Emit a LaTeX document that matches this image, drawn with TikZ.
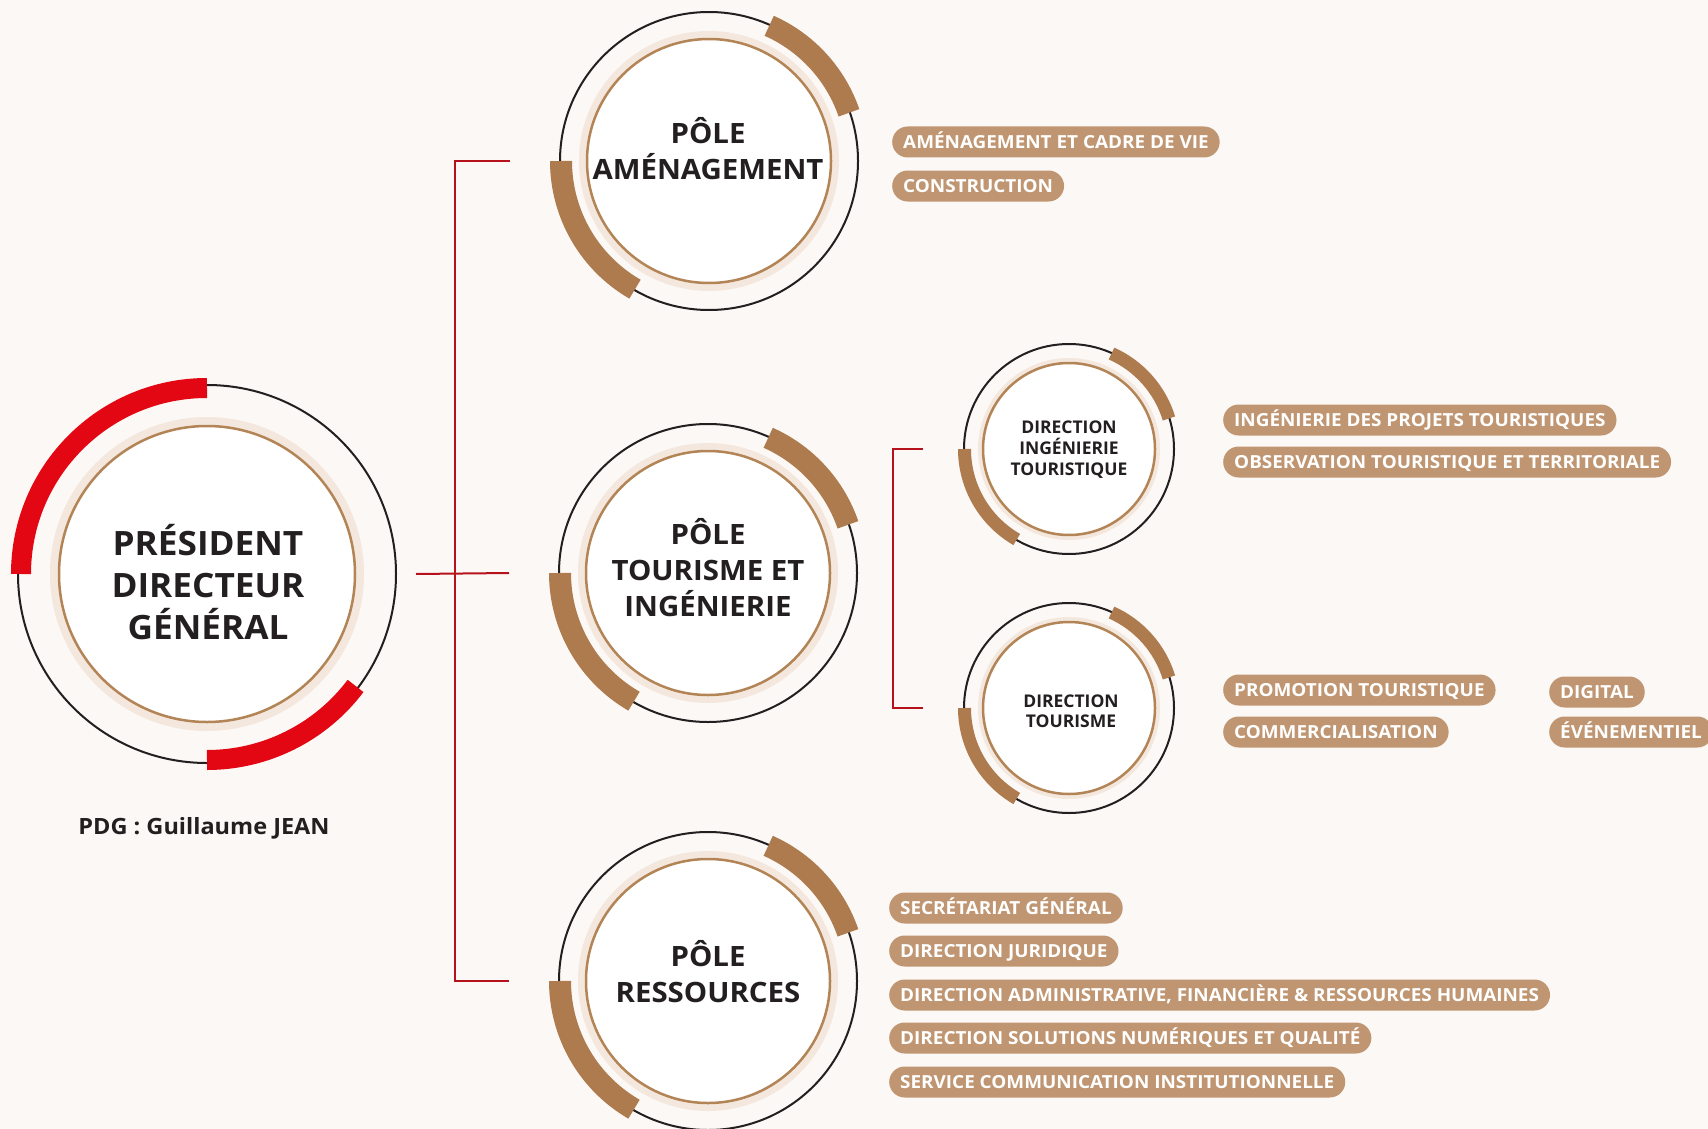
\documentclass[tikz,border=0pt]{standalone}
\usepackage{fontspec}
\setmainfont{Open Sans}[FakeStretch=1.05]
\newfontfamily\plainface{Open Sans}
\usetikzlibrary{positioning}
\definecolor{fond}{HTML}{FCF8F5}
\definecolor{encre}{HTML}{231F20}
\definecolor{rouge}{HTML}{E30613}
\definecolor{trait}{HTML}{B5121B}
\definecolor{bronze}{HTML}{AE7B4F}
\definecolor{cuivre}{HTML}{B38455}
\definecolor{halo}{HTML}{F4E8DE}
\definecolor{sable}{HTML}{BF9671}
\tikzset{
  ring/.style={circle,draw=encre,line width=2pt,inner sep=0pt},
  glow/.style={circle,fill=halo,inner sep=0pt},
  core/.style={circle,draw=cuivre,line width=2.5pt,fill=white,inner sep=0pt},
  title/.style={text=encre,align=center},
  tag/.style={rounded corners=15.5pt,fill=sable,text=white,font=\bfseries\fontsize{18}{18}\selectfont,minimum height=31pt,text height=12.6pt,text depth=0pt,inner xsep=11pt,inner ysep=0pt,anchor=west},
  link/.style={draw=trait,line width=2pt},
  redarc/.style={draw=rouge,line width=20pt},
  brownarc/.style={draw=bronze,line width=22pt},
  thinarc/.style={draw=bronze,line width=13pt}
}
\begin{document}
\begin{tikzpicture}[x=1pt,y=-1pt]
\fill[fond] (0,0) rectangle (1708,1129);
\useasboundingbox (0,0) rectangle (1708,1129);
\node[glow,minimum size=314pt] (pdg glow) at (207,574) {};
\node[ring,minimum size=378pt] (pdg) at (207,574) {};
\draw[redarc] (pdg.center) ++(-90:186) arc[start angle=-90,end angle=-180,radius=186];
\draw[redarc] (pdg.center) ++(90:186) arc[start angle=90,end angle=37,radius=186];
\node[core,minimum size=296pt] (pdg core) at (207,574) {};
\node[title,font=\bfseries\fontsize{33.5}{42}\selectfont] (pdg text) at (208,582) {PRÉSIDENT\\DIRECTEUR\\GÉNÉRAL};
\node[text=encre,font=\bfseries\fontsize{22.4}{22.4}\selectfont] (pdg name) at (204,828) {PDG : Guillaume JEAN};
\foreach \n/\x/\y in {pamen/709/161,ptour/708/573,pres/708/981}{
  \node[glow,minimum size=260pt] (\n glow) at (\x,\y) {};
  \node[ring,minimum size=298pt] (\n) at (\x,\y) {};
  \draw[brownarc] (\n.center) ++(-19:148) arc[start angle=-19,end angle=-66,radius=148];
  \draw[brownarc] (\n.center) ++(-180:148) arc[start angle=-180,end angle=-240,radius=148];
  \node[core,minimum size=244pt] (\n core) at (\x,\y) {};
}
\foreach \n/\x/\y in {ding/1069/449,dtour/1069/708}{
  \node[glow,minimum size=182pt] (\n glow) at (\x,\y) {};
  \node[ring,minimum size=210pt] (\n) at (\x,\y) {};
  \draw[thinarc] (\n.center) ++(-17:104.5) arc[start angle=-17,end angle=-66,radius=104.5];
  \draw[thinarc] (\n.center) ++(-180:104.5) arc[start angle=-180,end angle=-240,radius=104.5];
  \node[core,minimum size=172pt] (\n core) at (\x,\y) {};
}
\node[title,font=\bfseries\fontsize{28}{36}\selectfont] (pamen text) at (708,149) {PÔLE\\AMÉNAGEMENT};
\node[title,font=\bfseries\fontsize{28}{36}\selectfont] (ptour text) at (708,568) {PÔLE\\TOURISME ET\\INGÉNIERIE};
\node[title,font=\bfseries\fontsize{28}{36}\selectfont] (pres text) at (708,972) {PÔLE\\RESSOURCES};
\node[title,font=\plainface\bfseries\fontsize{17.5}{21}\selectfont] (ding text) at (1069,450) {DIRECTION\\INGÉNIERIE\\TOURISTIQUE};
\node[title,font=\plainface\bfseries\fontsize{17.5}{20}\selectfont] (dtour text) at (1071,711) {DIRECTION\\TOURISME};
\draw[link] ([xshift=19pt]pdg.east) -- ([xshift=-49pt]ptour.west);
\draw[link] ([xshift=-49pt]pamen.west) -- ++(-55,0) |- ([xshift=-49pt]pres.west);
\draw[link] ([xshift=-40pt]ding.west) -- ++(-30,0) |- ([xshift=-40pt]dtour.west);
\node[tag] (amen1) at (892,142) {AMÉNAGEMENT ET CADRE DE VIE};
\node[tag] (amen2) at (892,186) {CONSTRUCTION};
\node[tag] (ing1) at (1223,420) {INGÉNIERIE DES PROJETS TOURISTIQUES};
\node[tag] (ing2) at (1223,462) {OBSERVATION TOURISTIQUE ET TERRITORIALE};
\node[tag] (tour1) at (1223,690) {PROMOTION TOURISTIQUE};
\node[tag] (tour2) at (1223,732) {COMMERCIALISATION};
\node[tag] (tour3) at (1549,692) {DIGITAL};
\node[tag] (tour4) at (1549,732) {ÉVÉNEMENTIEL};
\node[tag] (res1) at (889,908) {SECRÉTARIAT GÉNÉRAL};
\node[tag] (res2) at (889,951) {DIRECTION JURIDIQUE};
\node[tag] (res3) at (889,995) {DIRECTION ADMINISTRATIVE, FINANCIÈRE \& RESSOURCES HUMAINES};
\node[tag] (res4) at (889,1038) {DIRECTION SOLUTIONS NUMÉRIQUES ET QUALITÉ};
\node[tag] (res5) at (889,1082) {SERVICE COMMUNICATION INSTITUTIONNELLE};
\end{tikzpicture}
\end{document}
